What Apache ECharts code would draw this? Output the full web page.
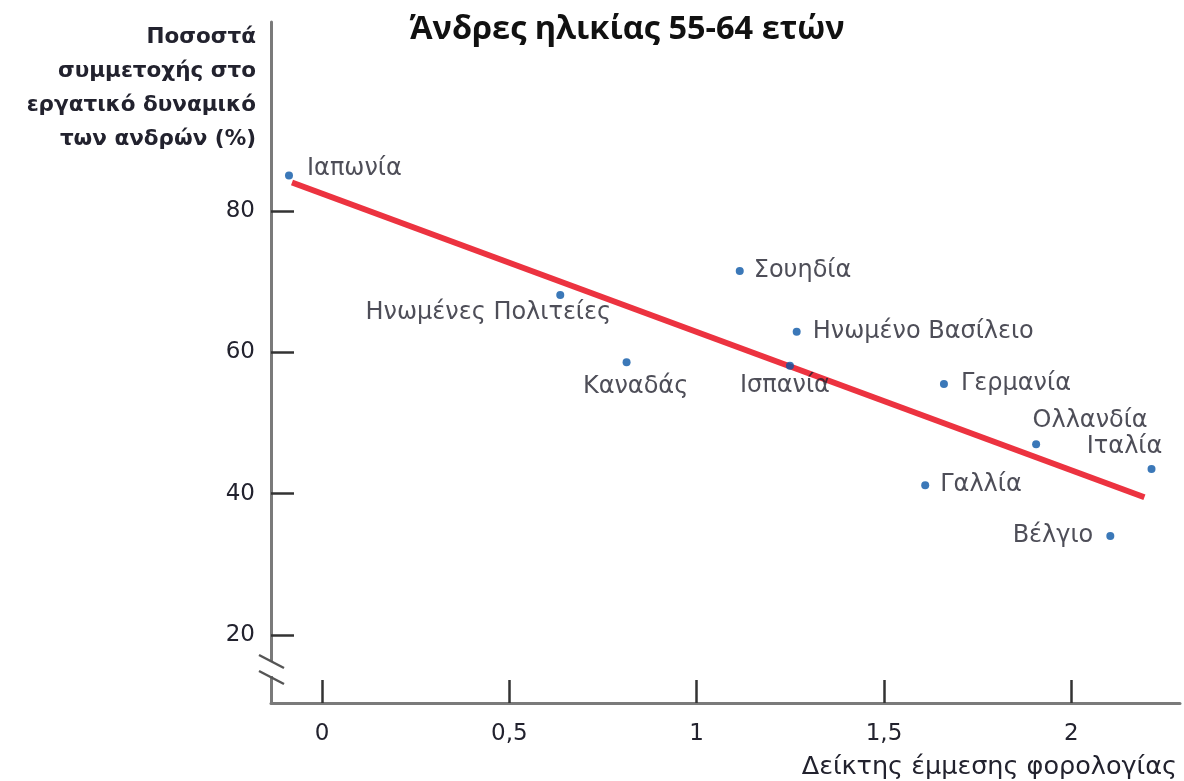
<!DOCTYPE html>
<html>
<head>
<meta charset="utf-8">
<script src="https://cdn.jsdelivr.net/npm/echarts@6.0.0/dist/echarts.min.js"></script>
<style>
  html, body { margin: 0; padding: 0; background: #fff; }
  #chart { width: 1184px; height: 781px; }
</style>
</head>
<body>
<div id="chart"></div>
<script>
// χώρες και τιμές
const countries = ['Ιαπωνία', 'Ηνωμένες Πολιτείες', 'Καναδάς', 'Σουηδία', 'Ηνωμένο Βασίλειο', 'Ισπανία',
  'Γερμανία', 'Ολλανδία', 'Ιταλία', 'Γαλλία', 'Βέλγιο'];
const taxIndex = [-0.088, 0.636, 0.813, 1.115, 1.267, 1.249, 1.660, 1.906, 2.214, 1.610, 2.104];
const participation = [85.0, 68.1, 58.6, 71.5, 62.9, 58.1, 55.5, 47.0, 43.5, 41.2, 34.0];
// γραμμή τάσης (άκρα)
const trendX = [-0.080, 2.195];
const trendY = [84.0, 39.5];
// ticks
const xTicks = [0, 0.5, 1, 1.5, 2];
const yTicks = [20, 40, 60, 80];

// θέσεις ετικετών
const labelPos = {
  'Ιαπωνία': { position: 'right', distance: 14, offset: [0, -7] },
  'Ηνωμένες Πολιτείες': { position: 'inside', offset: [-72, 18] },
  'Καναδάς': { position: 'inside', offset: [9, 25] },
  'Σουηδία': { position: 'right', distance: 10, offset: [0, 0] },
  'Ηνωμένο Βασίλειο': { position: 'right', distance: 12, offset: [0, 0] },
  'Ισπανία': { position: 'inside', offset: [-5, 20] },
  'Γερμανία': { position: 'right', distance: 13, offset: [0, 0] },
  'Ολλανδία': { position: 'inside', offset: [54, -23] },
  'Ιταλία': { position: 'inside', offset: [-27, -22] },
  'Γαλλία': { position: 'right', distance: 11, offset: [0, 0] },
  'Βέλγιο': { position: 'left', distance: 13, offset: [0, 0] }
};

const font = 'DejaVu Sans';
const textColor = '#22222e';
const points = countries.map((name, i) => ({
  name: name,
  value: [taxIndex[i], participation[i]],
  label: Object.assign({ show: true }, labelPos[name])
}));

const chart = echarts.init(document.getElementById('chart'));
const option = {
  animation: false,
  title: [{
    text: 'Άνδρες ηλικίας 55-64 ετών',
    left: 622,
    top: 8,
    textAlign: 'center',
    textStyle: { fontFamily: 'Open Sans', fontWeight: 'bold', fontSize: 32.5, color: '#111' }
  }, {
    text: 'Δείκτης έμμεσης φορολογίας',
    right: 2,
    top: 749,
    textStyle: { fontFamily: font, fontWeight: 'normal', fontSize: 25.5, color: textColor }
  }],
  grid: { left: 271, right: 4, top: 22, bottom: 78 },
  xAxis: {
    type: 'value',
    min: -0.136,
    max: 2.29,
    splitLine: { show: false },
    axisLine: { onZero: false, lineStyle: { color: '#7a7a7a', width: 3 } },
    axisTick: { inside: true, length: 23, customValues: xTicks, lineStyle: { color: '#333', width: 2.5 } },
    axisLabel: {
      customValues: xTicks,
      margin: 20,
      fontFamily: font, fontSize: 23, color: textColor,
      formatter: v => String(v).replace('.', ',')
    }
  },
  yAxis: {
    type: 'value',
    min: 10.4,
    max: 106.7,
    splitLine: { show: false },
    axisLine: { onZero: false, lineStyle: { color: '#7a7a7a', width: 3 } },
    axisTick: { inside: true, length: 23, customValues: yTicks, lineStyle: { color: '#333', width: 2.5 } },
    axisLabel: {
      customValues: yTicks,
      margin: 16,
      fontFamily: font, fontSize: 23, color: textColor
    }
  },
  series: [{
    type: 'line',
    data: trendX.map((x, i) => [x, trendY[i]]),
    symbol: 'none',
    lineStyle: { color: '#ec3340', width: 6 },
    z: 2
  }, {
    type: 'scatter',
    data: points,
    symbolSize: 8,
    itemStyle: { color: '#0a56a6' },
    label: {
      formatter: '{b}',
      fontFamily: font, fontSize: 24, color: textColor
    },
    z: 3
  }],
  graphic: [
    // τίτλος άξονα y
    {
      type: 'text', x: 256, y: 20, z: 100,
      style: {
        text: 'Ποσοστά\nσυμμετοχής στο\nεργατικό δυναμικό\nτων ανδρών (%)',
        align: 'right', verticalAlign: 'top',
        font: 'bold 21.5px "DejaVu Sans"', lineHeight: 34, fill: textColor
      }
    },
    // σπάσιμο άξονα
    { type: 'rect', shape: { x: 266, y: 662, width: 10, height: 14 }, style: { fill: '#fff' }, z: 100 },
    { type: 'line', shape: { x1: 259, y1: 655, x2: 284, y2: 668 }, style: { stroke: '#555', lineWidth: 2.5 }, z: 101 },
    { type: 'line', shape: { x1: 259, y1: 671, x2: 284, y2: 684 }, style: { stroke: '#555', lineWidth: 2.5 }, z: 101 }
  ]
};
chart.setOption(option);
</script>
</body>
</html>
